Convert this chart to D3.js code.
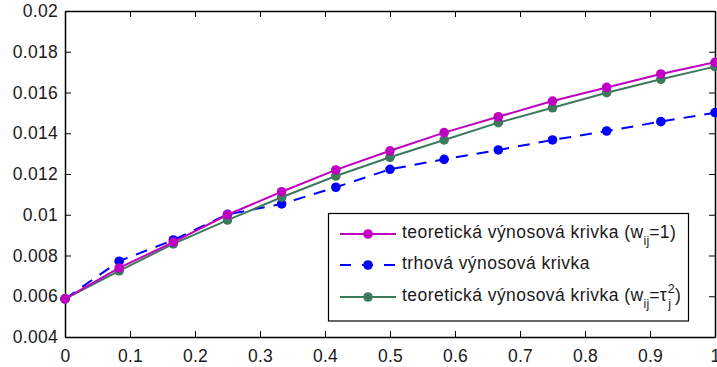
<!DOCTYPE html>
<html>
<head>
<meta charset="utf-8">
<script src="https://cdn.jsdelivr.net/npm/d3@7"></script>
<style>
  html, body { margin: 0; padding: 0; background: #fff; }
  svg { display: block; }
  text { font-family: "Liberation Sans", Arial, Helvetica, sans-serif; fill: #1a1a1a; }
</style>
</head>
<body>
<svg id="chart" width="717" height="367"></svg>
<script>
// Maturities (years) and yield curves
const maturities = [0, 1/12, 2/12, 3/12, 4/12, 5/12, 6/12, 7/12, 8/12, 9/12, 10/12, 11/12, 1];
const theoreticalW1 = [0.00587, 0.00739, 0.00866, 0.01000, 0.01113, 0.01220, 0.01314, 0.01403, 0.01481, 0.01558, 0.01625, 0.01691, 0.01748];
const marketCurve = [0.00587, 0.00772, 0.00876, 0.01002, 0.01053, 0.01135, 0.01223, 0.01272, 0.01318, 0.01367, 0.01411, 0.01457, 0.01501];
const theoreticalTau = [0.00587, 0.00725, 0.00857, 0.00974, 0.01086, 0.01190, 0.01282, 0.01367, 0.01452, 0.01525, 0.01599, 0.01665, 0.01727];

const xTicks = [0, 0.1, 0.2, 0.3, 0.4, 0.5, 0.6, 0.7, 0.8, 0.9, 1];
const xTickLabels = ["0", "0.1", "0.2", "0.3", "0.4", "0.5", "0.6", "0.7", "0.8", "0.9", "1"];
const yTicks = [0.004, 0.006, 0.008, 0.01, 0.012, 0.014, 0.016, 0.018, 0.02];
const yTickLabels = ["0.004", "0.006", "0.008", "0.01", "0.012", "0.014", "0.016", "0.018", "0.02"];

const series = [
  { name: "teoretická výnosová krivka (w", sub: "ij", tail: "=1)", values: theoreticalW1, color: "#c000c0", dash: null },
  { name: "trhová výnosová krivka", values: marketCurve, color: "#0000ff", dash: "12,9" },
  { name: "teoretická výnosová krivka (w", sub: "ij", tail: "=τ", sup: "2", sub2: "j", tail2: ")", values: theoreticalTau, color: "#3d7a5c", dash: null }
];

const svg = d3.select("#chart");
const plotLeft = 65, plotRight = 715, plotTop = 11, plotBottom = 337;

const x = d3.scaleLinear().domain([0, 1]).range([plotLeft, plotRight]);
const y = d3.scaleLinear().domain([0.004, 0.02]).range([plotBottom, plotTop]);

// Axes with inward ticks on all four sides
const axisStyle = g => {
  g.select(".domain").attr("stroke", "#000").attr("stroke-width", 1.5);
  g.selectAll(".tick line").attr("stroke", "#000").attr("stroke-width", 1);
  g.selectAll(".tick text").attr("font-size", 17.5).attr("letter-spacing", 0.3).attr("fill", "#1a1a1a");
};

svg.append("g").attr("transform", `translate(0,${plotBottom})`)
  .call(d3.axisBottom(x).tickValues(xTicks).tickFormat((d, i) => xTickLabels[i]).tickSizeInner(-6).tickSizeOuter(0).tickPadding(13))
  .call(axisStyle);
svg.append("g").attr("transform", `translate(${plotLeft},0)`)
  .call(d3.axisLeft(y).tickValues(yTicks).tickFormat((d, i) => yTickLabels[i]).tickSizeInner(-6).tickSizeOuter(0).tickPadding(7))
  .call(axisStyle);
svg.append("g").attr("transform", `translate(0,${plotTop})`)
  .call(d3.axisTop(x).tickValues(xTicks).tickFormat("").tickSizeInner(-6).tickSizeOuter(0))
  .call(axisStyle);
svg.append("g").attr("transform", `translate(${plotRight},0)`)
  .call(d3.axisRight(y).tickValues(yTicks).tickFormat("").tickSizeInner(-6).tickSizeOuter(0))
  .call(axisStyle);

// Curves
const line = d3.line().x((d, i) => x(maturities[i])).y(d => y(d));
const drawOrder = [series[1], series[2], series[0]];
drawOrder.forEach(s => {
  svg.append("path").datum(s.values)
    .attr("d", line).attr("fill", "none")
    .attr("stroke", s.color).attr("stroke-width", 2)
    .attr("stroke-dasharray", s.dash);
  svg.append("g").selectAll("circle").data(s.values).join("circle")
    .attr("cx", (d, i) => x(maturities[i])).attr("cy", d => y(d))
    .attr("r", 4.8).attr("fill", s.color);
});

// Legend
const lg = svg.append("g");
lg.append("rect").attr("x", 328.5).attr("y", 213.5).attr("width", 360).attr("height", 107.5)
  .attr("fill", "#fff").attr("stroke", "#000").attr("stroke-width", 1.2);
const rowY = [234, 265, 297];
series.forEach((s, k) => {
  const yy = rowY[k];
  lg.append("line").attr("x1", 340).attr("x2", 396).attr("y1", yy).attr("y2", yy)
    .attr("stroke", s.color).attr("stroke-width", 2).attr("stroke-dasharray", s.dash ? "11,11" : null);
  lg.append("circle").attr("cx", 368).attr("cy", yy).attr("r", 4.8).attr("fill", s.color);
  const t = lg.append("text").attr("x", 402).attr("y", yy + 4).attr("font-size", 17.5).attr("letter-spacing", 0.45);
  t.append("tspan").text(s.name);
  if (s.sub) {
    t.append("tspan").attr("font-size", 12.5).attr("letter-spacing", 0).attr("dy", 7).text(s.sub);
    t.append("tspan").attr("dy", -7).text(s.tail);
  }
  if (s.sup) {
    t.append("tspan").attr("font-size", 12.5).attr("letter-spacing", 0).attr("dy", -8).attr("dx", 0.5).text(s.sup);
    t.append("tspan").attr("font-size", 12.5).attr("letter-spacing", 0).attr("dy", 15).attr("dx", -6.5).text(s.sub2);
    t.append("tspan").attr("dy", -7).attr("dx", 4).text(s.tail2);
  }
});
</script>
</body>
</html>
